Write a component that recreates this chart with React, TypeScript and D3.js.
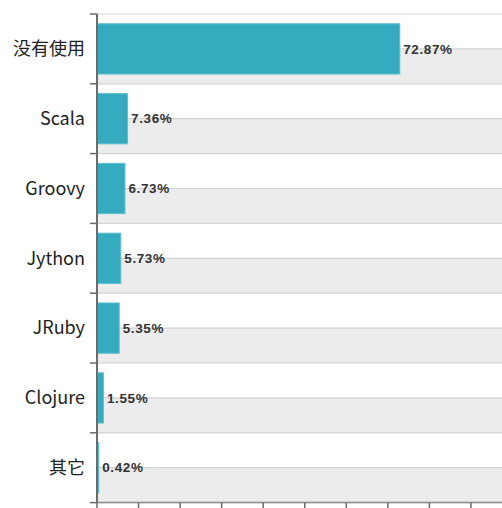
import React from "react";
import * as d3 from "d3";

const categories = ["没有使用", "Scala", "Groovy", "Jython", "JRuby", "Clojure", "其它"];
const values = [72.87, 7.36, 6.73, 5.73, 5.35, 1.55, 0.42];
const xTicks = [0, 10, 20, 30, 40, 50, 60, 70, 80, 90, 100];

const W = 502;
const H = 508;

export default function App() {
  const left = 97;
  const top = 14;
  const bottom = 502.6;
  const x = d3.scaleLinear().domain([0, 100]).range([left, left + 415.5]);
  const y = d3
    .scaleBand<string>()
    .domain(categories)
    .range([top, bottom])
    .paddingInner(0.28)
    .paddingOuter(0.14);
  const step = y.step();
  const bandTop = (c: string) => top + categories.indexOf(c) * step;

  return (
    <svg
      width={W}
      height={H}
      style={{ position: "absolute", left: 0, top: 0, background: "#fff" }}
    >
      {/* stripes */}
      {categories.map((c) => (
        <rect
          key={"s" + c}
          x={left}
          y={bandTop(c) + step / 2}
          width={W - left}
          height={step / 2}
          fill="#ececec"
        />
      ))}
      {/* gridlines */}
      {d3.range(0, categories.length * 2 + 1).map((i) => (
        <line
          key={"g" + i}
          x1={left}
          x2={W}
          y1={top + (i * step) / 2}
          y2={top + (i * step) / 2}
          stroke="#d3d3d3"
          strokeWidth={1.2}
        />
      ))}
      {/* bars */}
      {categories.map((c, i) => (
        <rect
          key={"b" + c}
          x={x(0)}
          y={y(c)}
          width={x(values[i]) - x(0)}
          height={y.bandwidth()}
          fill="#36abbf"
          stroke="#5cc0cf"
          strokeWidth={1}
        />
      ))}
      {/* value labels */}
      {categories.map((c, i) => (
        <text
          key={"v" + c}
          x={x(values[i]) + 3.5}
          y={(y(c) as number) + y.bandwidth() / 2}
          dy="0.35em"
          fontFamily="Liberation Sans, Arial, sans-serif"
          fontWeight="bold"
          fontSize={13.5}
          letterSpacing={0.6}
          fill="#333"
        >
          {values[i].toFixed(2)}%
        </text>
      ))}
      {/* category labels */}
      {categories.map((c) => (
        <text
          key={"c" + c}
          x={85}
          y={(y(c) as number) + y.bandwidth() / 2}
          dy="0.35em"
          textAnchor="end"
          fontFamily="Noto Sans CJK SC, Noto Sans, sans-serif"
          fontSize={18}
          fill="#222"
        >
          {c}
        </text>
      ))}
      {/* y axis */}
      <line x1={left} x2={left} y1={top} y2={bottom} stroke="#6b6b6b" strokeWidth={2} />
      {d3.range(0, categories.length + 1).map((i) => (
        <line
          key={"yt" + i}
          x1={90}
          x2={left}
          y1={top + i * step}
          y2={top + i * step}
          stroke="#6b6b6b"
          strokeWidth={1.5}
        />
      ))}
      {/* x axis */}
      <line x1={left} x2={W} y1={bottom} y2={bottom} stroke="#8a8a8a" strokeWidth={1.5} />
      {xTicks.map((t) => (
        <line
          key={"xt" + t}
          x1={x(t)}
          x2={x(t)}
          y1={bottom}
          y2={bottom + 7}
          stroke="#6b6b6b"
          strokeWidth={1.5}
        />
      ))}
    </svg>
  );
}
